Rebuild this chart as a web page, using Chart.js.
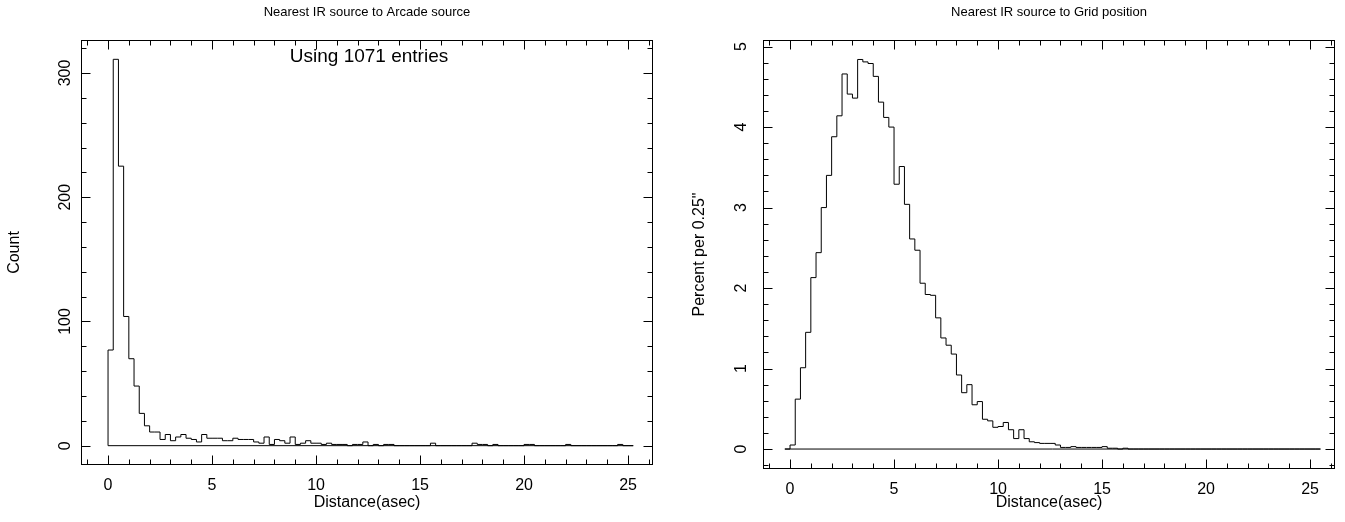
<!DOCTYPE html>
<html><head><meta charset="utf-8">
<script src="https://cdn.jsdelivr.net/npm/chart.js@4/dist/chart.umd.min.js"></script>
<style>
html,body{margin:0;padding:0;background:#fff;}
#wrap{position:relative;width:1345px;height:522px;overflow:hidden;background:#fff;}
#c1{position:absolute;left:0;top:0;}
#c2{position:absolute;left:672px;top:0;}
</style></head><body>
<div id="wrap"><canvas id="c1" width="672" height="522"></canvas><canvas id="c2" width="673" height="522"></canvas></div>
<script>
// ---------- data ----------
const binWidth = 0.25;
const totalEntries = 1071;

// Left panel: counts per 0.25" bin, first bin starts at 0
const leftBinStart = 0;
const leftCounts = [
  77,311,225,104,70,48,26,16,11,11,
  5,9,4,7,9,6,5,3,9,6,
  6,6,4,4,6,5,5,5,3,2,
  7,1,5,4,2,7,1,2,4,2,
  2,1,2,1,1,1,0,1,1,3,
  0,1,0,1,1,0,0,0,0,0,
  0,0,2,0,0,0,0,0,0,0,
  2,1,1,0,1,0,0,0,0,0,
  1,1,0,0,0,0,0,0,1,0,
  0,0,0,0,0,0,0,0,1,0,
  0
];

// Right panel: percent per 0.25" bin, first bin starts at -0.25
const rightBinStart = -0.25;
const rightPercent = [
  0,
  0.05,0.62,1.01,1.45,2.13,2.44,3.00,3.40,3.88,4.14,
  4.66,4.41,4.36,4.84,4.81,4.79,4.63,4.31,4.12,4.00,
  3.29,3.51,3.04,2.61,2.47,2.06,1.92,1.91,1.63,1.38,
  1.29,1.18,0.92,0.70,0.80,0.55,0.59,0.37,0.35,0.27,
  0.28,0.33,0.24,0.13,0.24,0.13,0.09,0.08,0.07,0.07,
  0.07,0.05,0.02,0.02,0.03,0.02,0.02,0.02,0.02,0.02,
  0.03,0.01,0.01,0,0.01,0,0,0,0,0,
  0,0,0,0,0,0,0,0,0,0,
  0,0,0,0,0,0,0,0,0,0,
  0,0,0,0,0,0,0,0,0,0,
  0,0
];

const xTickLabels = [0,5,10,15,20,25];
const leftYTickLabels = [0,100,200,300];
const rightYTickLabels = [0,1,2,3,4,5];

// ---------- helpers ----------
const FONT = "'Liberation Sans', Arial, Helvetica, sans-serif";
const INK = '#000';
const LABEL_SIZE = 16;

function histPoints(start, values) {
  const pts = [{x: start, y: 0}];
  values.forEach((v, i) => pts.push({x: start + i * binWidth, y: v}));
  const end = start + values.length * binWidth;
  pts.push({x: end, y: values[values.length - 1]});
  pts.push({x: end, y: 0});
  return pts;
}

const frameTicks = {
  id: 'frameTicks',
  afterDatasetsDraw(chart, args, o) {
    const {ctx, chartArea: a, scales: {x, y}} = chart;
    ctx.save();
    ctx.strokeStyle = INK; ctx.lineWidth = 1;
    const L = Math.round(a.left) + 0.5, R = Math.round(a.right) - 0.5;
    const T = Math.round(a.top) + 0.5, B = Math.round(a.bottom) - 0.5;
    ctx.strokeRect(L, T, R - L, B - T);
    const line = (x1, y1, x2, y2) => { ctx.beginPath(); ctx.moveTo(x1, y1); ctx.lineTo(x2, y2); ctx.stroke(); };
    const eps = 1e-6;
    for (let k = Math.ceil(x.min / o.xMinor); k * o.xMinor <= x.max + eps; k++) {
      const v = k * o.xMinor;
      const px = Math.round(x.getPixelForValue(v)) + 0.5;
      const major = Math.abs(v / o.xMajor - Math.round(v / o.xMajor)) < eps;
      const len = major ? 9 : 5;
      line(px, B, px, B - len);
      line(px, T, px, T + len);
    }
    for (let k = Math.ceil(y.min / o.yMinor); k * o.yMinor <= y.max + eps; k++) {
      const v = k * o.yMinor;
      const py = Math.round(y.getPixelForValue(v)) + 0.5;
      const major = Math.abs(v / o.yMajor - Math.round(v / o.yMajor)) < eps;
      const len = major ? 9 : 5;
      line(L, py, L + len, py);
      line(R, py, R - len, py);
    }
    // rotated y tick labels
    ctx.fillStyle = INK;
    ctx.font = LABEL_SIZE + 'px ' + FONT;
    ctx.textAlign = 'center';
    ctx.textBaseline = 'middle';
    o.yLabels.forEach(v => {
      const py = y.getPixelForValue(v);
      ctx.save();
      ctx.translate(a.left - o.yLabelOffset, py);
      ctx.rotate(-Math.PI / 2);
      ctx.fillText(String(v), 0, 0);
      ctx.restore();
    });
    if (o.note) {
      ctx.font = o.noteSize + 'px ' + FONT;
      ctx.textAlign = 'center';
      ctx.fillText(o.note, (a.left + a.right) / 2 + o.noteDx, a.top + o.noteDy);
    }
    ctx.restore();
  }
};

function makeChart(canvasId, cfg) {
  return new Chart(document.getElementById(canvasId), {
    type: 'line',
    data: {
      datasets: [
        { data: histPoints(cfg.binStart, cfg.values), stepped: 'before', borderColor: INK, borderWidth: 1,
          pointRadius: 0, fill: false, tension: 0 },
        { data: [{x: cfg.binStart, y: 0}, {x: cfg.binStart + cfg.values.length * binWidth, y: 0}],
          borderColor: INK, borderWidth: 1, pointRadius: 0, fill: false }
      ]
    },
    options: {
      responsive: false, animation: false, events: [],
      devicePixelRatio: 1,
      layout: { padding: { left: 0, right: cfg.padRight, top: 0, bottom: 0 } },
      plugins: {
        legend: { display: false }, tooltip: { enabled: false },
        title: { display: true, text: cfg.title, color: INK, fullSize: false,
                 font: { family: FONT, size: 13, weight: 'normal' }, padding: { top: 5, bottom: 19.4 } },
        frameTicks: { xMinor: 1, xMajor: 5, yMinor: cfg.yMinor, yMajor: cfg.yMajor,
                      yLabels: cfg.yLabels, yLabelOffset: cfg.yLabelOffset,
                      note: cfg.note, noteDx: 2, noteDy: 17, noteSize: 19 }
      },
      scales: {
        x: {
          type: 'linear', min: cfg.xMin, max: cfg.xMax,
          afterBuildTicks: s => { s.ticks = xTickLabels.map(v => ({ value: v })); },
          afterFit: s => { s.height = cfg.xAxisHeight; },
          grid: { display: false, drawTicks: false }, border: { display: false },
          ticks: { color: INK, font: { family: FONT, size: LABEL_SIZE }, padding: 11, maxRotation: 0, autoSkip: false },
          title: { display: true, text: 'Distance(asec)', color: INK, font: { family: FONT, size: LABEL_SIZE },
                   padding: { top: 0, bottom: 10 } }
        },
        y: {
          type: 'linear', min: cfg.yMin, max: cfg.yMax,
          afterBuildTicks: s => { s.ticks = cfg.yLabels.map(v => ({ value: v })); },
          afterFit: s => { s.width = cfg.yAxisWidth; },
          grid: { display: false, drawTicks: false }, border: { display: false },
          ticks: { display: false },
          title: { display: true, text: cfg.yTitle, color: INK, font: { family: FONT, size: LABEL_SIZE },
                   padding: { top: cfg.yTitlePad, bottom: 0 } }
        }
      }
    },
    plugins: [frameTicks]
  });
}

makeChart('c1', {
  title: 'Nearest IR source to Arcade source',
  binStart: leftBinStart, values: leftCounts,
  xMin: -1.3, xMax: 26.2, yMin: -15.55, yMax: 326.55,
  yMinor: 20, yMajor: 100, yLabels: leftYTickLabels, yLabelOffset: 15,
  yAxisWidth: 81, padRight: 19, xAxisHeight: 57,
  yTitle: 'Count', yTitlePad: 5.4,
  note: 'Using ' + totalEntries + ' entries'
});

makeChart('c2', {
  title: 'Nearest IR source to Grid position',
  binStart: rightBinStart, values: rightPercent,
  xMin: -1.3, xMax: 26.2, yMin: -0.248, yMax: 5.082,
  yMinor: 0.2, yMajor: 1, yLabels: rightYTickLabels, yLabelOffset: 21.5,
  yAxisWidth: 91, padRight: 10, xAxisHeight: 53,
  yTitle: 'Percent per 0.25"', yTitlePad: 18.4,
  note: null
});
</script>
</body></html>
